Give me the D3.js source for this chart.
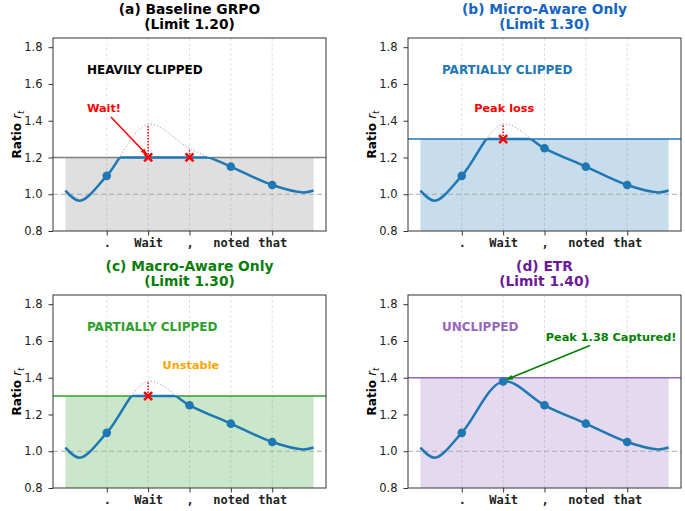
<!DOCTYPE html>
<html>
<head>
<meta charset="utf-8">
<script src="https://cdn.jsdelivr.net/npm/d3@7"></script>
<style>
  body { margin: 0; background: #fff; }
</style>
</head>
<body>
<div id="container"></div>
<script>
/* DATA */
const xTickPos = [1, 2, 3, 4, 5];
const xTickLabels = [".", "Wait", ",", "noted", "that"];
const tokenValues = [1.10, 1.38, 1.25, 1.15, 1.05];
// smooth ratio curve (token points plus the two dips)
const curveX = [0, 0.35, 1, 2, 3, 4, 5, 5.75, 6];
const curveY = [1.02, 0.965, 1.10, 1.38, 1.25, 1.15, 1.05, 1.01, 1.02];
const yTicks = [0.8, 1.0, 1.2, 1.4, 1.6, 1.8];

const panelTitles = ["(a) Baseline GRPO", "(b) Micro-Aware Only", "(c) Macro-Aware Only", "(d) ETR"];
const limits = [1.20, 1.30, 1.30, 1.40];
const statusLabels = ["HEAVILY CLIPPED", "PARTIALLY CLIPPED", "PARTIALLY CLIPPED", "UNCLIPPED"];
const titleColors = ["#000000", "#1565c0", "#0a7d0a", "#6a1b9a"];
const themeColors = ["#808080", "#1f77b4", "#2ca02c", "#9467bd"];
const statusColors = ["#000000", "#1f77b4", "#2ca02c", "#9467bd"];
const notes = [
  {text: "Wait!", x: 0.52, y: 1.47, color: "red", from: [1.1, 1.42], to: [1.97, 1.215]},
  {text: "Peak loss", x: 1.30, y: 1.47, color: "red"},
  {text: "Unstable", x: 2.35, y: 1.47, color: "orange"},
  {text: "Peak 1.38 Captured!", x: 3.03, y: 1.623, color: "green", from: [4.1, 1.575], to: [2.08, 1.39]}
];

/* CONSTANTS */
const width = 685, height = 511;
const lefts = [53, 408], tops = [38, 295];
const pw = 273, ph = 193;
const lineBlue = "#1f77b4";
const sans = "'DejaVu Sans', sans-serif";

const svg = d3.select("#container")
  .append("svg")
  .attr("width", width)
  .attr("height", height)
  .style("background-color", "white")
  .style("font-family", sans);

const defs = svg.append("defs");
[["red", "red"], ["green", "green"]].forEach(([id, c]) => {
  defs.append("marker")
    .attr("id", "arrow-" + id)
    .attr("viewBox", "0 0 10 10")
    .attr("refX", 9).attr("refY", 5)
    .attr("markerWidth", 9).attr("markerHeight", 7)
    .attr("markerUnits", "userSpaceOnUse")
    .attr("orient", "auto")
    .append("path")
    .attr("d", "M0,1.5 L10,5 L0,8.5 Z")
    .attr("fill", c);
});

const curvePts = curveX.map((x, i) => ({x, y: curveY[i]}));

panelTitles.forEach((title, i) => {
  const left = lefts[i % 2], top = tops[Math.floor(i / 2)];
  const limit = limits[i];

  const x = d3.scaleLinear().domain([-0.3, 6.3]).range([left, left + pw]);
  const y = d3.scaleLinear().domain([0.8, 1.85]).range([top + ph, top]);

  const g = svg.append("g");

  // vertical grid
  g.selectAll(".grid")
    .data(xTickPos)
    .join("line")
    .attr("x1", d => x(d)).attr("x2", d => x(d))
    .attr("y1", top).attr("y2", top + ph)
    .attr("stroke", "#d9d9d9")
    .attr("stroke-width", 0.8)
    .attr("stroke-dasharray", "3,2");

  // safe region
  g.append("rect")
    .attr("x", x(0)).attr("y", y(limit))
    .attr("width", x(6) - x(0)).attr("height", y(0.8) - y(limit))
    .attr("fill", themeColors[i]).attr("fill-opacity", 0.25);

  // limit line
  g.append("line")
    .attr("x1", left).attr("x2", left + pw)
    .attr("y1", y(limit)).attr("y2", y(limit))
    .attr("stroke", themeColors[i]).attr("stroke-width", 1.5);

  // ratio 1.0 reference
  g.append("line")
    .attr("x1", left).attr("x2", left + pw)
    .attr("y1", y(1.0)).attr("y2", y(1.0))
    .attr("stroke", "#aaaaaa").attr("stroke-width", 1.2)
    .attr("stroke-dasharray", "5,3");

  const lineGen = d3.line()
    .x(d => x(d.x)).y(d => y(d.y))
    .curve(d3.curveCatmullRom.alpha(0.5));

  // original (unclipped) curve
  g.append("path")
    .attr("d", lineGen(curvePts))
    .attr("fill", "none")
    .attr("stroke", "#a0a0a0")
    .attr("stroke-width", 1)
    .attr("stroke-dasharray", "1.2,2");

  // clip paths: below the limit, and under the curve
  defs.append("clipPath").attr("id", "below" + i)
    .append("rect")
    .attr("x", left - 5).attr("y", y(limit))
    .attr("width", pw + 10).attr("height", y(0.8) - y(limit) + 5);

  const areaGen = d3.area()
    .x(d => x(d.x)).y0(y(0.8)).y1(d => y(d.y))
    .curve(d3.curveCatmullRom.alpha(0.5));
  defs.append("clipPath").attr("id", "under" + i)
    .append("path")
    .attr("d", areaGen(curvePts));

  // clipped curve
  g.append("path")
    .attr("d", lineGen(curvePts))
    .attr("fill", "none")
    .attr("stroke", lineBlue)
    .attr("stroke-width", 2.5)
    .attr("clip-path", `url(#below${i})`);

  g.append("line")
    .attr("x1", x(0)).attr("x2", x(6))
    .attr("y1", y(limit)).attr("y2", y(limit))
    .attr("stroke", lineBlue).attr("stroke-width", 2.5)
    .attr("clip-path", `url(#under${i})`);

  const tokens = xTickPos.map((p, k) => ({x: p, v: tokenValues[k]}));
  const kept = tokens.filter(d => d.v <= limit);
  const clipped = tokens.filter(d => d.v > limit);

  // red dotted loss lines
  g.selectAll(".loss")
    .data(clipped)
    .join("line")
    .attr("x1", d => x(d.x)).attr("x2", d => x(d.x))
    .attr("y1", y(limit)).attr("y2", d => y(d.v))
    .attr("stroke", "red").attr("stroke-width", 1.5)
    .attr("stroke-dasharray", "1.5,1.5");

  g.selectAll(".pt")
    .data(kept)
    .join("circle")
    .attr("cx", d => x(d.x)).attr("cy", d => y(d.v))
    .attr("r", 4.3)
    .attr("fill", lineBlue);

  const s = 4;
  g.selectAll(".cross")
    .data(clipped)
    .join("path")
    .attr("d", d => {
      const cx = x(d.x), cy = y(limit);
      return `M${cx - s},${cy - s}L${cx + s},${cy + s}M${cx - s},${cy + s}L${cx + s},${cy - s}`;
    })
    .attr("stroke", "red").attr("stroke-width", 2.5)
    .attr("fill", "none");

  // status label
  g.append("text")
    .attr("x", x(0.52)).attr("y", y(1.675))
    .attr("dy", "0.36em")
    .attr("font-size", 12).attr("font-weight", "bold")
    .attr("fill", statusColors[i])
    .text(statusLabels[i]);

  // annotation
  const n = notes[i];
  if (n.from) {
    g.append("line")
      .attr("x1", x(n.from[0])).attr("y1", y(n.from[1]))
      .attr("x2", x(n.to[0])).attr("y2", y(n.to[1]))
      .attr("stroke", n.color).attr("stroke-width", 1.5)
      .attr("marker-end", `url(#arrow-${n.color})`);
  }
  g.append("text")
    .attr("x", x(n.x)).attr("y", y(n.y))
    .attr("dy", "0.36em")
    .attr("font-size", 11.3).attr("font-weight", "bold")
    .attr("fill", n.color)
    .text(n.text);

  // axes
  const yAxis = d3.axisLeft(y)
    .tickValues(yTicks)
    .tickFormat(d3.format(".1f"))
    .tickSize(4.5).tickPadding(6);
  const yg = g.append("g")
    .attr("transform", `translate(${left},0)`)
    .call(yAxis);
  yg.select(".domain").remove();
  yg.attr("font-family", null);
  yg.selectAll("text").attr("font-size", 11.5).attr("fill", "#222")
    .style("font-family", sans);
  yg.selectAll("line").attr("stroke", "#333");

  const xAxis = d3.axisBottom(x)
    .tickValues(xTickPos)
    .tickFormat((d, k) => xTickLabels[k])
    .tickSize(4.5).tickPadding(3);
  const xg = g.append("g")
    .attr("transform", `translate(0,${top + ph})`)
    .call(xAxis);
  xg.select(".domain").remove();
  xg.selectAll("text").attr("font-size", 12).attr("font-weight", "bold")
    .attr("fill", "#222")
    .style("font-family", "'DejaVu Sans Mono', monospace");
  xg.selectAll("line").attr("stroke", "#333");

  // frame
  g.append("rect")
    .attr("x", left).attr("y", top)
    .attr("width", pw).attr("height", ph)
    .attr("fill", "none").attr("stroke", "#333").attr("stroke-width", 1);

  // y label
  const yl = g.append("text")
    .attr("transform", `translate(${left - 32},${top + ph / 2}) rotate(-90)`)
    .attr("text-anchor", "middle")
    .attr("font-size", 12);
  yl.append("tspan").attr("font-weight", "bold").text("Ratio ");
  yl.append("tspan").attr("font-style", "italic").text("r");
  yl.append("tspan").attr("font-style", "italic").attr("font-size", 8.5).attr("dy", 2.5).text("t");

  // title
  const tt = g.append("text")
    .attr("x", left + pw / 2).attr("y", 13.5 + (top - 38))
    .attr("text-anchor", "middle")
    .attr("font-size", 13.8).attr("font-weight", "bold")
    .attr("fill", titleColors[i]);
  tt.append("tspan").attr("x", left + pw / 2).text(title);
  tt.append("tspan").attr("x", left + pw / 2).attr("dy", 15.5).text(`(Limit ${limit.toFixed(2)})`);
});
</script>
</body>
</html>
